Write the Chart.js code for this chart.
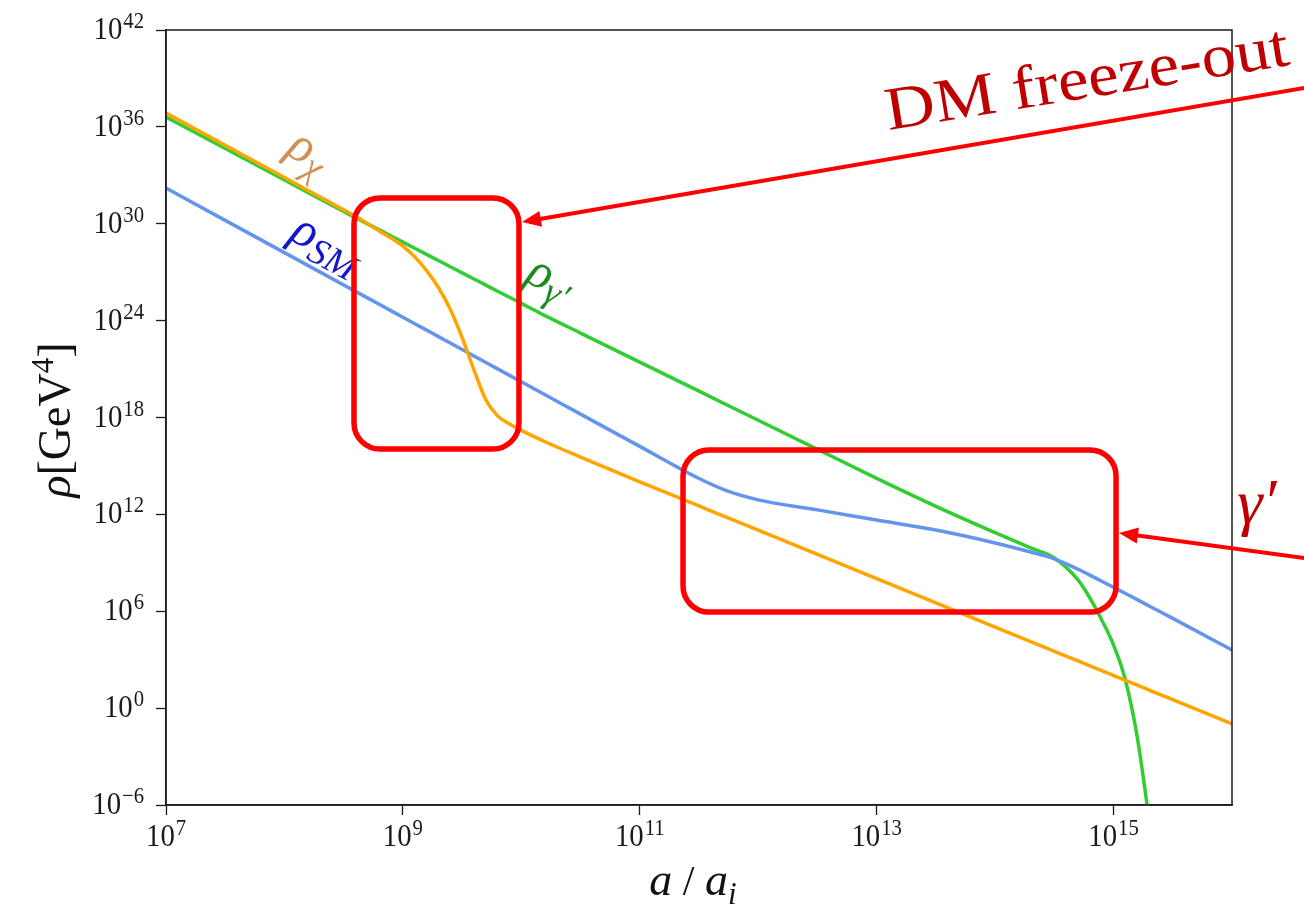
<!DOCTYPE html>
<html>
<head>
<meta charset="utf-8">
<title>Energy densities vs scale factor</title>
<script src="https://cdn.jsdelivr.net/npm/chart.js@4.4.1/dist/chart.umd.min.js"></script>
<style>
  html, body { margin: 0; padding: 0; background: #fff; }
  canvas { display: block; }
</style>
</head>
<body>
<canvas id="rhoChart" width="1304" height="908"></canvas>
<script>
    // --- DATA (log10 values) ---
    const logA = [7, 7.5, 8, 8.5, 8.6, 8.8, 9, 9.1, 9.2, 9.3, 9.4, 9.5, 9.6, 9.7, 9.8, 9.9, 10, 10.2, 10.5, 11,
                  11.5, 11.75, 12, 12.5, 13, 13.5, 14, 14.3, 14.5, 14.7, 14.8, 14.9, 15, 15.1, 15.2, 15.3, 15.5, 16];
    const logRhoChi = [36.86, 34.86, 32.86, 30.86, 30.46, 29.55, 28.62, 27.95, 27.1, 26.05, 24.7, 22.95, 20.95, 19.1, 18.1, 17.6, 17.2, 16.5, 15.55, 14.02,
                       12.52, 11.77, 11.02, 9.52, 8.02, 6.52, 5.02, 4.12, 3.52, 2.92, 2.62, 2.32, 2.02, 1.72, 1.42, 1.12, 0.52, -0.98];
    const logRhoSM = [32.21, 30.21, 28.21, 26.21, 25.81, 25.01, 24.21, 23.81, 23.41, 23.01, 22.61, 22.21, 21.81, 21.41, 21.01, 20.61, 20.21, 19.41, 18.21, 16.21,
                      14.22, 13.42, 12.9, 12.28, 11.65, 11.03, 10.23, 9.67, 9.25, 8.6, 8.24, 7.86, 7.48, 7.1, 6.72, 6.33, 5.56, 3.60];
    const logRhoGamma = [36.61, 34.66, 32.71, 30.76, 30.37, 29.62, 28.86, 28.48, 28.10, 27.72, 27.34, 26.96, 26.58, 26.20, 25.82, 25.45, 25.07, 24.31, 23.23, 21.43,
                         19.63, 18.73, 17.83, 16.03, 14.23, 12.5, 10.87, 9.92, 9.30, 7.94, 6.82, 5.46, 3.91, 1.74, -1.79, -6.87, null, null];

    const xTicks = [1e7, 1e9, 1e11, 1e13, 1e15];
    const yTicks = [1e-6, 1e0, 1e6, 1e12, 1e18, 1e24, 1e30, 1e36, 1e42];

    // annotation geometry, also in log10(a/a_i), log10(rho)
    const freezeBox = { x0: 8.587, x1: 9.98, y0: 16.05, y1: 31.6 };
    const decayBox = { x0: 11.365, x1: 15.021, y0: 5.95, y1: 15.99 };
    const freezeArrow = { from: [16.61, 38.41], to: [10.006, 30.11] };
    const decayArrow = { from: [16.61, 9.30], to: [15.046, 10.85] };

    const SERIF = '"Liberation Serif", "DejaVu Serif", serif';
    const DARK_RED = '#c00000';
    const SQUEEZE = 0.9;

    function toPoints(logs) {
        return logA.map((lx, i) => ({ x: 10 ** lx, y: logs[i] === null ? null : 10 ** logs[i] }));
    }

    // "10" with a raised exponent
    function drawPow10(ctx, exp, x, y, align) {
        const sup = exp < 0 ? '\u2212' + (-exp) : String(exp);
        ctx.font = `32px ${SERIF}`;
        const wb = ctx.measureText('10').width;
        ctx.font = `23px ${SERIF}`;
        const ws = ctx.measureText(sup).width;
        const total = (wb + 1 + ws) * SQUEEZE;
        const x0 = align === 'right' ? x - total : x - total / 2;
        ctx.save();
        ctx.translate(x0, y);
        ctx.scale(SQUEEZE, 1);
        ctx.textAlign = 'left';
        ctx.textBaseline = 'alphabetic';
        ctx.font = `32px ${SERIF}`;
        ctx.fillText('10', 0, 0);
        ctx.font = `23px ${SERIF}`;
        ctx.fillText(sup, wb + 1, -11);
        ctx.restore();
    }

    // runs of text with their own font and baseline shift
    function drawRuns(ctx, runs, x, y, align) {
        let total = 0;
        runs.forEach(r => { ctx.font = r.font; r.w = ctx.measureText(r.text).width; total += r.w; });
        let cx = align === 'center' ? x - total / 2 : x;
        ctx.textAlign = 'left';
        ctx.textBaseline = 'alphabetic';
        runs.forEach(r => {
            ctx.font = r.font;
            ctx.fillText(r.text, cx, y + (r.dy || 0));
            cx += r.w;
        });
    }

    function curveLabel(ctx, pos, deg, color, main, sub, size) {
        ctx.save();
        ctx.translate(pos[0], pos[1]);
        ctx.rotate(deg * Math.PI / 180);
        ctx.fillStyle = color;
        drawRuns(ctx, [
            { text: main, font: `italic ${size}px ${SERIF}` },
            { text: sub, font: `italic ${Math.round(size * 0.74)}px ${SERIF}`, dy: 9 }
        ], 0, 0, 'left');
        ctx.restore();
    }

    function arrow(ctx, p0, p1) {
        const ang = Math.atan2(p1[1] - p0[1], p1[0] - p0[0]);
        const len = 19, half = 8;
        ctx.beginPath();
        ctx.moveTo(p0[0], p0[1]);
        ctx.lineTo(p1[0] - Math.cos(ang) * len * 0.8, p1[1] - Math.sin(ang) * len * 0.8);
        ctx.stroke();
        ctx.beginPath();
        ctx.moveTo(p1[0], p1[1]);
        ctx.lineTo(p1[0] - Math.cos(ang) * len + Math.sin(ang) * half, p1[1] - Math.sin(ang) * len - Math.cos(ang) * half);
        ctx.lineTo(p1[0] - Math.cos(ang) * len - Math.sin(ang) * half, p1[1] - Math.sin(ang) * len + Math.cos(ang) * half);
        ctx.closePath();
        ctx.fill();
    }

    // --- PLUGIN: frame, tick labels, titles, annotations ---
    const overlay = {
        id: 'overlay',
        afterDatasetsDraw(chart) {
            const { ctx, chartArea: a } = chart;
            ctx.save();
            ctx.strokeStyle = '#1a1a1a';
            ctx.lineWidth = 1.5;
            ctx.strokeRect(a.left, a.top, a.right - a.left, a.bottom - a.top);
            ctx.restore();
        },
        afterDraw(chart) {
            const { ctx, scales: { x, y } } = chart;
            const px = lx => x.getPixelForValue(10 ** lx);
            const py = ly => y.getPixelForValue(10 ** ly);
            const pt = p => [px(p[0]), py(p[1])];

            ctx.save();
            ctx.fillStyle = '#1a1a1a';
            y.ticks.forEach(t => drawPow10(ctx, Math.round(Math.log10(t.value)), y.right - 22, y.getPixelForValue(t.value) + 9, 'right'));
            x.ticks.forEach(t => drawPow10(ctx, Math.round(Math.log10(t.value)), x.getPixelForValue(t.value), x.top + 41, 'center'));

            // axis titles
            ctx.fillStyle = '#111';
            drawRuns(ctx, [
                { text: 'a', font: `italic 46px ${SERIF}` },
                { text: ' / ', font: `42px ${SERIF}` },
                { text: 'a', font: `italic 46px ${SERIF}` },
                { text: 'i', font: `italic 31px ${SERIF}`, dy: 9 }
            ], 693, 895, 'center');
            ctx.save();
            ctx.translate(70, 420);
            ctx.rotate(-Math.PI / 2);
            drawRuns(ctx, [
                { text: '\u03C1', font: `italic 46px ${SERIF}` },
                { text: '[GeV', font: `46px ${SERIF}` },
                { text: '4', font: `31px ${SERIF}`, dy: -17 },
                { text: ']', font: `46px ${SERIF}` }
            ], 0, 0, 'center');
            ctx.restore();

            // curve labels
            curveLabel(ctx, pt([8.0, 34.35]), 30, '#d09050', '\u03C1', '\u03C7', 50);
            curveLabel(ctx, pt([8.03, 29.05]), 28, '#1414cc', '\u03C1', 'SM', 50);
            curveLabel(ctx, pt([10.02, 26.45]), 26, '#1e8a1e', '\u03C1', '\u03B3\u2032', 50);

            // highlight boxes
            ctx.strokeStyle = '#ff0000';
            ctx.fillStyle = '#ff0000';
            ctx.lineWidth = 5.5;
            [freezeBox, decayBox].forEach(b => {
                const l = px(b.x0), r = px(b.x1), t = py(b.y1), bt = py(b.y0);
                ctx.beginPath();
                ctx.roundRect(l, t, r - l, bt - t, 26);
                ctx.stroke();
            });
            ctx.lineWidth = 4;
            arrow(ctx, pt(freezeArrow.from), pt(freezeArrow.to));
            arrow(ctx, pt(decayArrow.from), pt(decayArrow.to));

            // annotation texts
            ctx.fillStyle = DARK_RED;
            const ft = pt([13.1, 35.81]);
            ctx.save();
            ctx.translate(ft[0], ft[1]);
            ctx.rotate(-9.2 * Math.PI / 180);
            ctx.font = `61px ${SERIF}`;
            const fw = ctx.measureText('DM freeze-out').width;
            ctx.scale(408 / fw, 1);
            ctx.textAlign = 'left';
            ctx.textBaseline = 'alphabetic';
            ctx.fillText('DM freeze-out', 0, 0);
            ctx.restore();

            const gt = pt([16.045, 11.47]);
            ctx.font = `italic 64px ${SERIF}`;
            ctx.textAlign = 'left';
            ctx.fillText('\u03B3\u2032', gt[0], gt[1]);
            ctx.restore();
        }
    };

    // --- CHART ---
    const ctx = document.getElementById('rhoChart').getContext('2d');
    const rhoChart = new Chart(ctx, {
        type: 'line',
        data: {
            datasets: [
                { label: 'rho_chi', data: toPoints(logRhoChi), borderColor: '#ffa500' },
                { label: 'rho_SM', data: toPoints(logRhoSM), borderColor: '#6495ed' },
                { label: 'rho_gamma', data: toPoints(logRhoGamma), borderColor: '#32cd32' }
            ]
        },
        options: {
            responsive: false,
            animation: false,
            datasets: {
                line: { borderWidth: 3.5, pointRadius: 0, fill: false, cubicInterpolationMode: 'monotone', spanGaps: false }
            },
            layout: { padding: { left: 0, right: 72, top: 30, bottom: 0 } },
            plugins: { legend: { display: false }, tooltip: { enabled: false } },
            scales: {
                x: {
                    type: 'logarithmic',
                    min: 1e7,
                    max: 1e16,
                    afterBuildTicks: s => { s.ticks = xTicks.map(v => ({ value: v })); },
                    afterFit: s => { s.height = 103; },
                    ticks: { display: false },
                    grid: { drawOnChartArea: false, tickLength: 10, color: '#1a1a1a', tickWidth: 1.3 },
                    border: { color: '#1a1a1a', width: 1.5 }
                },
                y: {
                    type: 'logarithmic',
                    min: 1e-6,
                    max: 1e42,
                    afterBuildTicks: s => { s.ticks = yTicks.map(v => ({ value: v })); },
                    afterFit: s => { s.width = 166; },
                    ticks: { display: false },
                    grid: { drawOnChartArea: false, tickLength: 10, color: '#1a1a1a', tickWidth: 1.3 },
                    border: { color: '#1a1a1a', width: 1.5 }
                }
            }
        },
        plugins: [overlay]
    });
</script>
</body>
</html>
